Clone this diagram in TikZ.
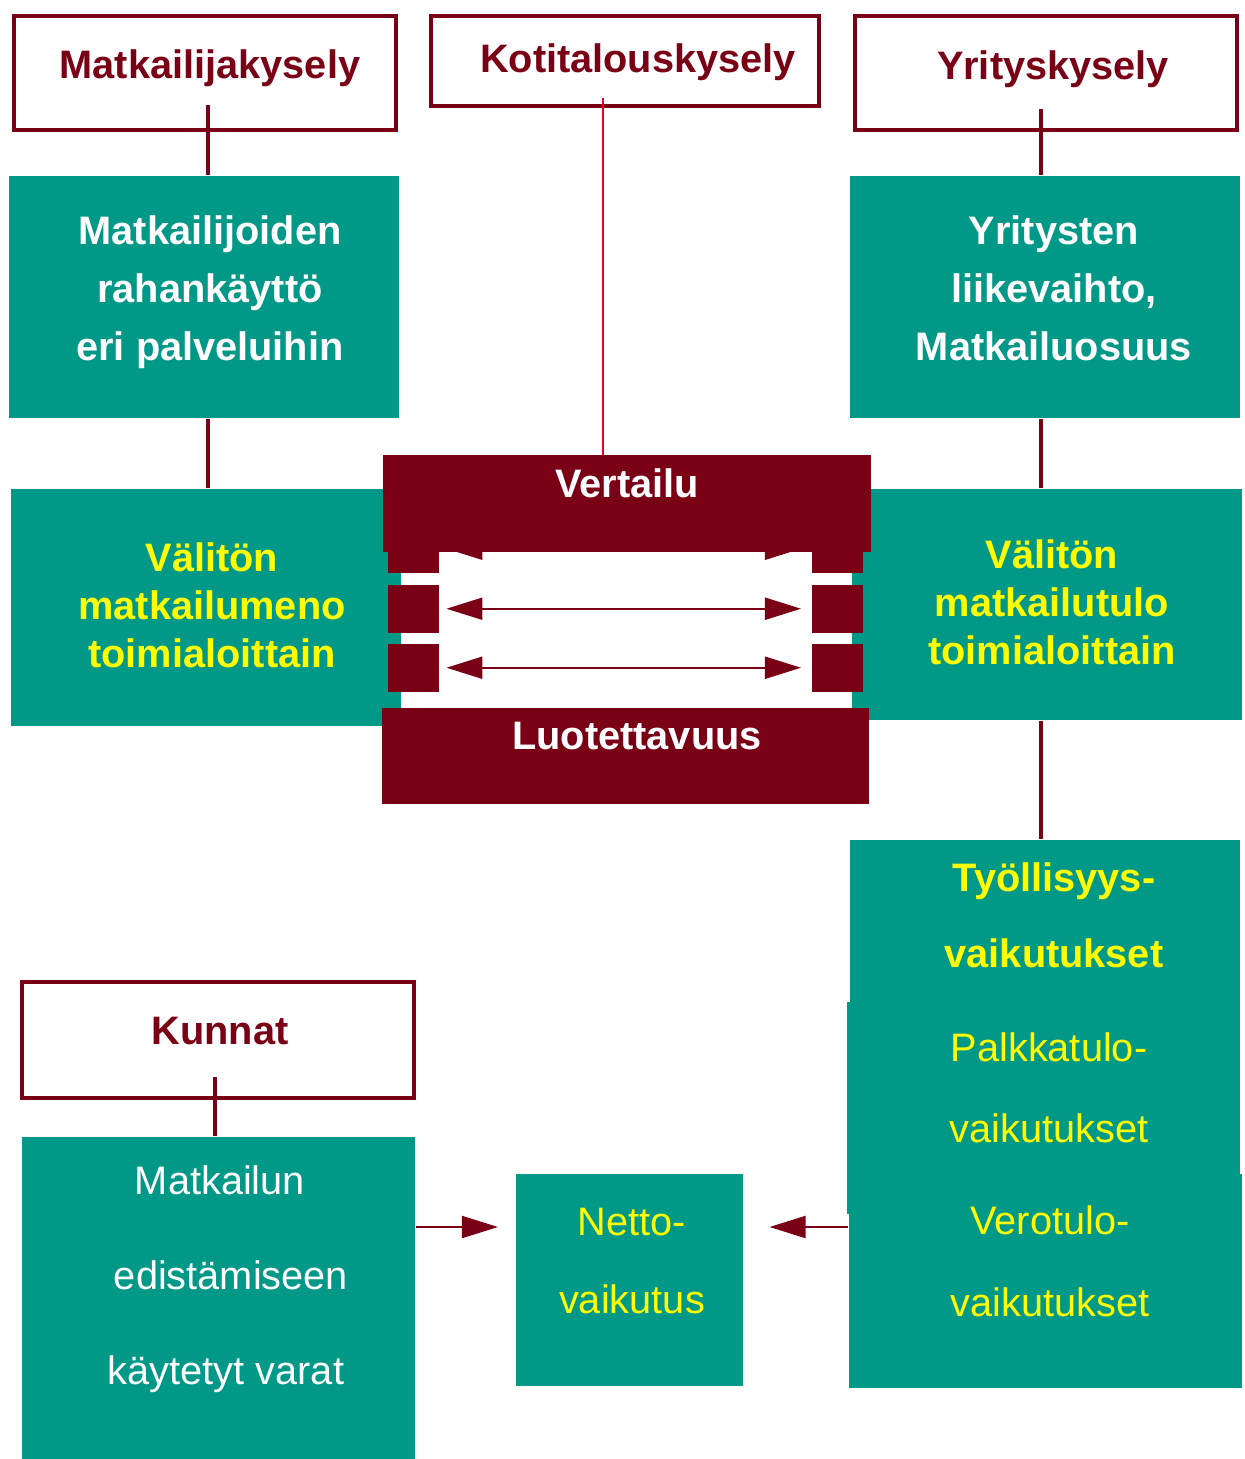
\documentclass[tikz,border=0pt]{standalone}
\usepackage{fontspec}
\setmainfont{Liberation Sans}
\usetikzlibrary{arrows.meta}

\definecolor{viini}{RGB}{122,0,22}
\definecolor{turkoosi}{RGB}{0,152,135}
\definecolor{keltainen}{RGB}{255,255,0}
\definecolor{punainen}{RGB}{232,0,40}

\tikzset{
	kysely/.style={draw=viini, line width=1.2pt, fill=white, inner sep=0pt, anchor=north west},
	laatikko/.style={fill=turkoosi, inner sep=0pt, anchor=north west},
	palkki/.style={fill=viini, inner sep=0pt, anchor=north west},
	teksti/.style={align=center, inner sep=0pt, font=\fontsize{11.3}{#1}\selectfont},
	lihava/.style={align=center, inner sep=0pt, font=\fontsize{11.3}{#1}\selectfont\bfseries},
	linkki/.style={draw=viini, line width=1.3pt},
	nuoli/.style={draw=viini, line width=0.6pt, -{Triangle[length=0.36cm, width=0.22cm]}},
	kaksinuoli/.style={draw=viini, line width=0.6pt, {Triangle[length=0.36cm, width=0.22cm]}-{Triangle[length=0.36cm, width=0.22cm]}},
}

\begin{document}
\begin{tikzpicture}[x=0.01cm, y=-0.01cm]
	
	\useasboundingbox (0,0) rectangle (1245,1459);
	
	% kyselyt
	\node[kysely, minimum width=3.82cm, minimum height=1.14cm] (mkysely) at (12,14) {};
	\node[kysely, minimum width=3.88cm, minimum height=0.90cm] (kkysely) at (429,14) {};
	\node[kysely, minimum width=3.82cm, minimum height=1.14cm] (ykysely) at (853,14) {};
	\node[kysely, minimum width=3.92cm, minimum height=1.16cm] (kunnat) at (20,980) {};
	
	% turkoosit laatikot
	\node[laatikko, minimum width=3.90cm, minimum height=2.42cm] (rahankaytto) at (8,175) {};
	\node[laatikko, minimum width=3.90cm, minimum height=2.42cm] (liikevaihto) at (849,175) {};
	\node[laatikko, minimum width=3.90cm, minimum height=2.37cm] (meno) at (10,488) {};
	\node[laatikko, minimum width=3.90cm, minimum height=2.31cm] (tulo) at (851,488) {};
	\node[laatikko, minimum width=3.90cm, minimum height=1.62cm] (tyollisyys) at (849,839) {};
	\node[laatikko, minimum width=3.93cm, minimum height=2.12cm] (palkkatulo) at (846,1001) {};
	\node[laatikko, minimum width=3.93cm, minimum height=2.14cm] (verotulo) at (848,1173) {};
	\node[laatikko, minimum width=3.93cm, minimum height=3.22cm] (varat) at (21,1136) {};
	\node[laatikko, minimum width=2.27cm, minimum height=2.12cm] (netto) at (515,1173) {};
	
	% vertailun palat ja nuolet
	\foreach \r/\y in {1/524,2/584,3/643} {
		\node[palkki, minimum width=0.51cm, minimum height=0.48cm] (vas\r) at (387,\y) {};
		\node[palkki, minimum width=0.51cm, minimum height=0.48cm] (oik\r) at (811,\y) {};
		\draw[kaksinuoli, shorten <=0.07cm, shorten >=0.10cm] (vas\r) -- (oik\r);
	}
	
	\draw[punainen, line width=0.7pt] (603,98) coordinate (kalku) -- (603,470);
	
	\node[palkki, minimum width=4.88cm, minimum height=0.97cm] (vertailu) at (382,454) {};
	\node[palkki, minimum width=4.87cm, minimum height=0.96cm] (luotettavuus) at (381,707) {};
	
	% yhdysviivat
	\coordinate (malku) at (208,105);
	\coordinate (yalku) at (1041,109);
	\coordinate (kualku) at (215,1077);
	\draw[linkki] (malku) -- (malku |- rahankaytto.north);
	\draw[linkki] (rahankaytto.south -| malku) -- (meno.north -| malku);
	\draw[linkki] (yalku) -- (yalku |- liikevaihto.north);
	\draw[linkki] (liikevaihto.south -| yalku) -- (tulo.north -| yalku);
	\draw[linkki] (tulo.south -| yalku) -- (tyollisyys.north -| yalku);
	\draw[linkki] (kualku) -- (kualku |- varat.north);
	
	\coordinate (nuolitaso) at (0,1227);
	\draw[nuoli, shorten >=0.17cm] (varat.east |- nuolitaso) -- (netto.west |- nuolitaso);
	\draw[nuoli, shorten >=0.26cm] (verotulo.west |- nuolitaso) -- (netto.east |- nuolitaso);
	
	% tekstit
	\node[lihava=16.5, text=viini] (t-mk) at (210,68) {Matkailijakysely};
	\node[lihava=16.5, text=viini] (t-kk) at (638,62) {Kotitalouskysely};
	\node[lihava=16.5, text=viini] (t-yk) at (1053,69) {Yrityskysely};
	\node[lihava=16.5, text=viini] (t-ku) at (220,1031) {Kunnat};
	
	\node[lihava=16.5, text=white] (t-raha) at (210,292) {Matkailijoiden\\rahankäyttö\\eri palveluihin};
	\node[lihava=16.5, text=white] (t-liike) at (1054,288) {Yritysten\\liikevaihto,\\Matkailuosuus};
	\node[lihava=13.7, text=keltainen] (t-meno) at (212,605) {Välitön\\matkailumeno\\toimialoittain};
	\node[lihava=13.7, text=keltainen] (t-tulo) at (1052,602) {Välitön\\matkailutulo\\toimialoittain};
	\node[lihava=16.5, text=white] (t-vert) at (627,483) {Vertailu};
	\node[lihava=16.5, text=white] (t-luot) at (637,736) {Luotettavuus};
	
	\node[lihava=21.6, text=keltainen] (t-tyo) at (1054,915) {Työllisyys-\\vaikutukset};
	\node[teksti=23, text=keltainen] (t-palk) at (1049,1088) {Palkkatulo-\\vaikutukset};
	\node[teksti=23.3, text=keltainen] (t-vero) at (1050,1261) {Verotulo-\\vaikutukset};
	\node[teksti=27, text=white] (t-varat) at (226,1279) {Matkailun\hspace*{0.12cm}\\\hspace*{0.10cm}edistämiseen\\käytetyt varat};
	\node[teksti=22.2, text=keltainen] (t-netto) at (632,1261) {Netto-\\vaikutus};
	
\end{tikzpicture}
\end{document}
